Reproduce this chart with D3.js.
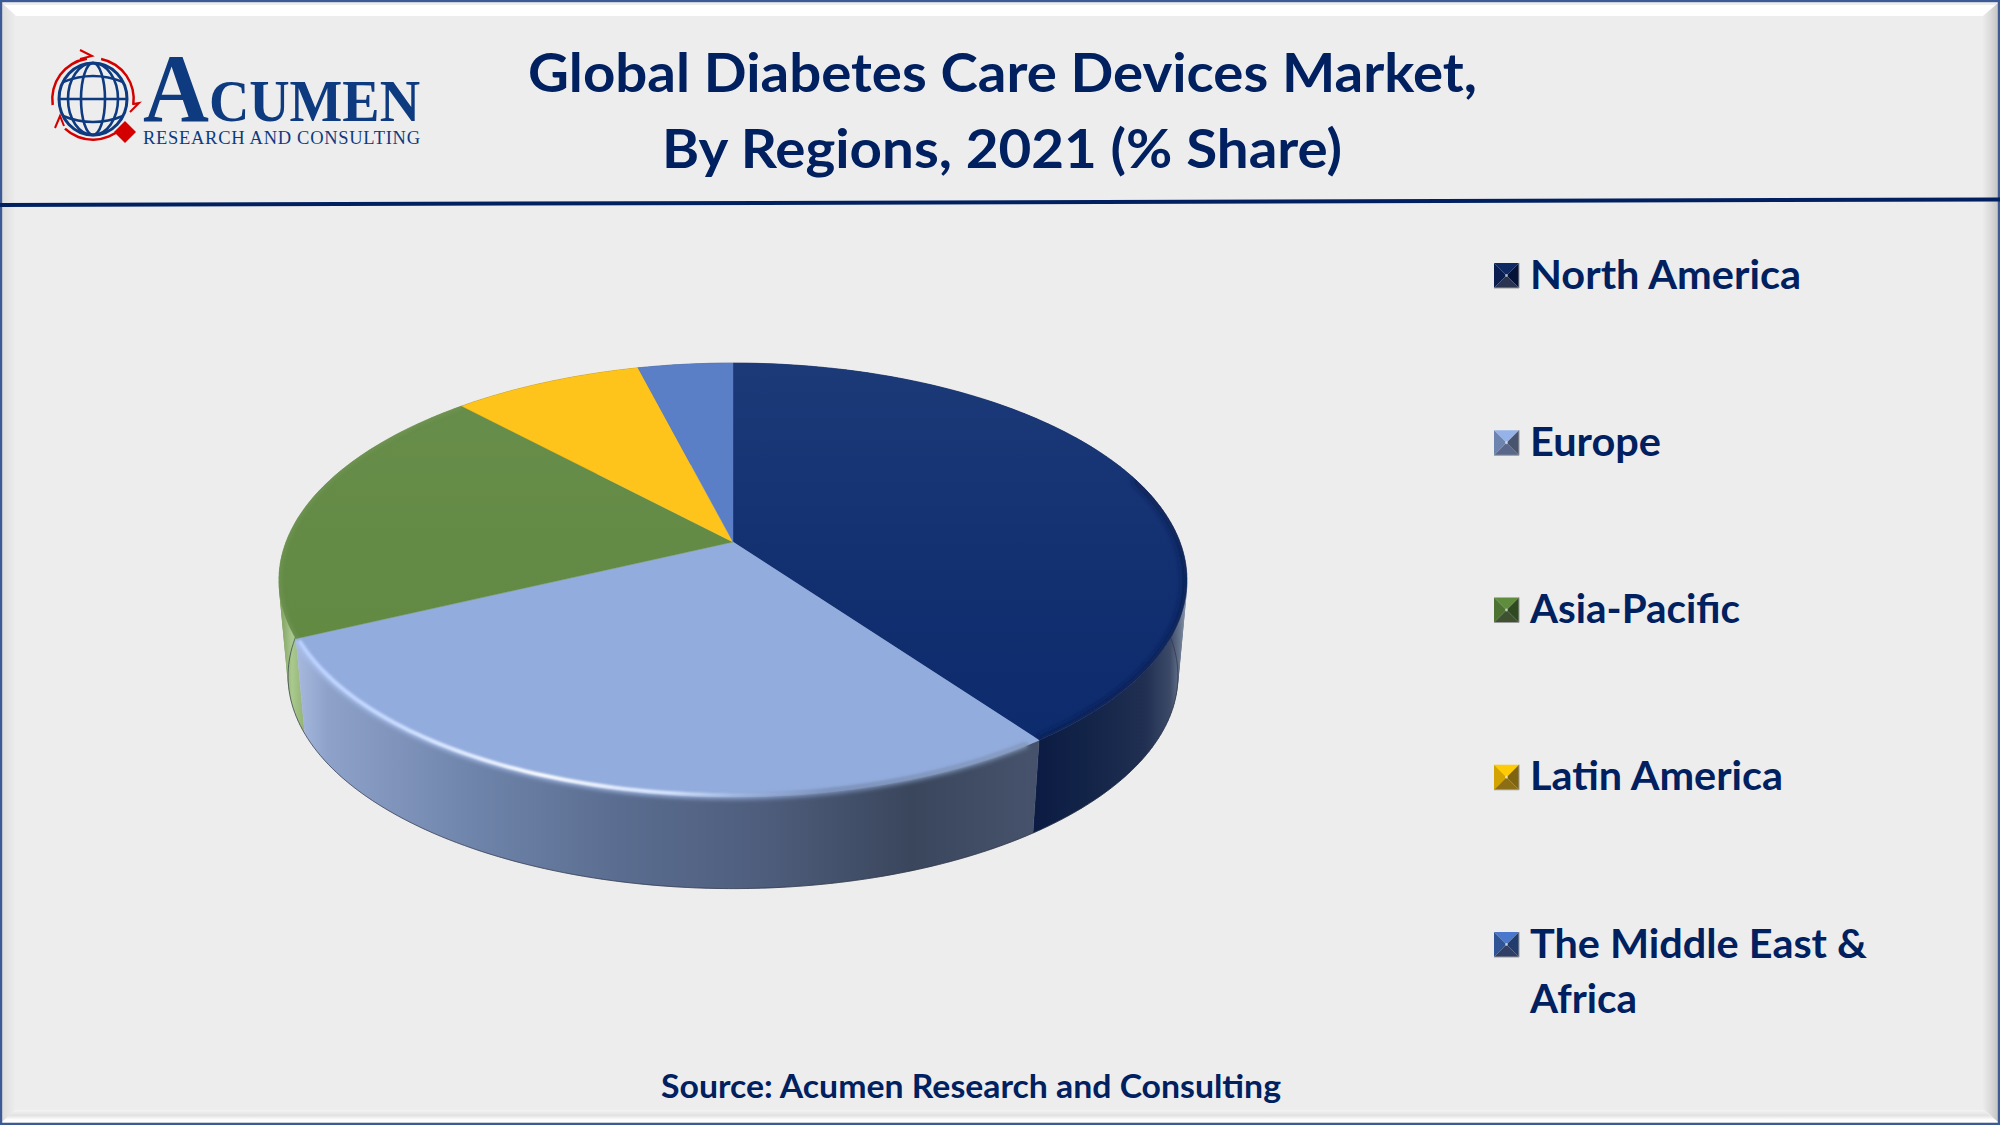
<!DOCTYPE html>
<html><head><meta charset="utf-8">
<script src="https://cdn.jsdelivr.net/npm/d3@7"></script>
<style>html,body{margin:0;padding:0;background:#ededed}svg{display:block}</style>
</head><body><svg id="c" width="2000" height="1125"></svg>
<script>
const categories = ["North America","Europe","Asia-Pacific","Latin America","The Middle East & Africa"];
const shares = [40,28,20,8,4];
const titleLines = ["Global Diabetes Care Devices Market,","By Regions, 2021 (% Share)"];
const sourceNote = "Source: Acumen Research and Consulting";
const topColors = ["#122f70","#92acdd","#638b45","#ffc41c","#5a7fc6"];
const legendLines = [["North America"],["Europe"],["Asia-Pacific"],["Latin America"],["The Middle East &","Africa"]];
const swatchFacets = [
 ["#0f2a63","#0a1f4f","#051338","#2a3350"],
 ["#95b3e8","#6e84b0","#48546e","#59688a"],
 ["#5f8c3d","#4d7332","#2f4a20","#3e5230"],
 ["#ffcb05","#d3a400","#7f6410","#8c6f14"],
 ["#4a78cc","#2f5596","#233c6e","#303f66"]];

const NAVY="#002060";
const svg=d3.select("#c"), defs=svg.append("defs");
const TEXT="Lato, 'Open Sans', sans-serif";
svg.append("rect").attr("width",2000).attr("height",1125).attr("fill","#ededed");

/* frame bevel */
const line=d3.line();
const frame=svg.append("g");
function poly(p,f){frame.append("path").attr("d",line(p)+"Z").attr("fill",f);}
function lg(id,x1,y1,x2,y2,stops){
  const g=defs.append("linearGradient").attr("id",id).attr("gradientUnits","userSpaceOnUse")
    .attr("x1",x1).attr("y1",y1).attr("x2",x2).attr("y2",y2);
  stops.forEach(s=>g.append("stop").attr("offset",s[0]).attr("stop-color",s[1]).attr("stop-opacity",s[2]==null?1:s[2]));
  return `url(#${id})`;
}
poly([[2,5],[1998,5],[1983,16],[16,16]],"#ffffff");
poly([[1998,3],[1998,1122],[1983,1108],[1983,16]],lg("fr",1983,0,1998,0,[[0,"#ebebeb"],[.5,"#dadada"],[1,"#c4c4c4"]]));
poly([[2,3],[15,15],[15,1110],[2,1122]],lg("fl",2,0,15,0,[[0,"#dedede"],[1,"#ececec"]]));
poly([[15,1110],[1983,1110],[1998,1122],[2,1122]],lg("fb",0,1110,0,1122,[[0,"#f4f4f4"],[.45,"#e2e2e2"],[.8,"#fdfdfd"],[1,"#ffffff"]]));
frame.append("rect").attr("x",1).attr("y",1).attr("width",1998).attr("height",1123)
  .attr("fill","none").attr("stroke","#3d5a96").attr("stroke-width",2.4);
svg.append("line").attr("x1",0).attr("y1",205).attr("x2",2000).attr("y2",199.5)
  .attr("stroke",NAVY).attr("stroke-width",4);

/* logo */
const logo=svg.append("g"), LB="#0e3a80", LR="#d40000";
const globe=logo.append("g").attr("transform","translate(93,99)").attr("fill","none").attr("stroke",LB).attr("stroke-width",2.6);
globe.append("ellipse").attr("rx",34).attr("ry",36).attr("stroke-width",3);
[12,25].forEach(r=>globe.append("ellipse").attr("rx",r).attr("ry",36));
globe.append("line").attr("x1",-34).attr("x2",34);
globe.append("path").attr("d","M-30,-17Q0,-29 30,-17M-30,17Q0,29 30,17");
const redArc=d3.arc().innerRadius(39.5).outerRadius(42);
[[-1.72,-0.15],[0.2,1.72],[2.35,3.9]].forEach(a=>{
  logo.append("path").attr("transform","translate(93,99)")
    .attr("d",redArc({startAngle:a[0],endAngle:a[1]})).attr("fill",LR);
});
logo.append("path").attr("d","M80,50L92,56L80,59M133,104L139,103L130,112M55,128L60,116L64,126")
  .attr("fill","none").attr("stroke",LR).attr("stroke-width",2);
logo.append("path").attr("d","M125,121L136,132L125,143L114,132Z").attr("fill",LR);
const brand=logo.append("text").attr("x",143).attr("y",121).attr("font-family","'Liberation Serif',serif").attr("font-weight",700)
  .attr("fill",LB).attr("textLength",277).attr("lengthAdjust","spacingAndGlyphs");
brand.append("tspan").attr("font-size",98).text("A");
brand.append("tspan").attr("font-size",60).text("CUMEN");
logo.append("text").attr("x",143).attr("y",144).attr("font-family","'Liberation Serif',serif")
  .attr("font-size",18.5).attr("fill",LB).attr("textLength",277).attr("lengthAdjust","spacing").text("RESEARCH AND CONSULTING");

/* titles */
function label(t,x,y,size,width,anchor){
  return svg.append("text").attr("x",x).attr("y",y).attr("font-family",TEXT).attr("font-weight",700)
    .attr("font-size",size).attr("fill",NAVY).attr("text-anchor",anchor||"start")
    .attr("textLength",width).attr("lengthAdjust","spacingAndGlyphs").text(t);
}
label(titleLines[0],1002.5,92,53,949,"middle");
label(titleLines[1],1002,168,53,680,"middle");
label(sourceNote,971,1098,33,620,"middle");

/* perspective pie */
const CX=733, APEX=542, H_A=115.4, H_C=-0.1751, H_D=447, ELL_Y=580, DEPTH=96;
const topPt=a=>{const u=Math.sin(a),v=-Math.cos(a),w=1+H_C*v;return [CX+H_D*u/w,(H_A*v+APEX)/w];};
const botPt=a=>{const p=topPt(a);return [CX+(p[0]-CX)*.98,ELL_Y+(p[1]-ELL_Y)*.98+DEPTH];};
const pie=d3.pie().sort(null).value(d=>d)(shares);
const samples=(s,e)=>{const n=Math.max(8,Math.ceil((e-s)/0.02));return d3.range(n+1).map(i=>s+(e-s)*i/n);};

const wallStops=[
 [[1030,"#0a1a42"],[1100,"#15264a"],[1145,"#202f52"],[1170,"#3c4a68"],[1180,"#66748c"],[1188,"#95a1b2"]],
 [[300,"#a4b6dc"],[328,"#8ea2c9"],[474,"#6f84aa"],[620,"#5a6d90"],[765,"#4e5d7c"],[911,"#3a465c"],[1030,"#46526b"]],
 [[280,"#7f9f5f"],[292,"#a9c98e"],[310,"#8aa868"]],
 [[0,"#8a6f10"],[2000,"#8a6f10"]],
 [[0,"#2f4a80"],[2000,"#2f4a80"]]];
const walls=svg.append("g");
[4,3,2,0,1].forEach(i=>{
  const d=pie[i], st=wallStops[i], x0=st[0][0], x1=st[st.length-1][0];
  const fill=lg("w"+i,x0,0,x1,0,st.map(s=>[(s[0]-x0)/(x1-x0),s[1]]));
  const aa=samples(d.startAngle,d.endAngle); let path="";
  for(let k=0;k<aa.length-1;k++){
    let q=[topPt(aa[k]),topPt(aa[k+1]),botPt(aa[k+1]),botPt(aa[k])];
    if(d3.polygonArea(q)<0) q=q.reverse();
    path+=line(q)+"Z";
  }
  walls.append("path").attr("d",path).attr("fill",fill).attr("fill-rule","nonzero")
    .attr("stroke",fill).attr("stroke-width",.4);
});
walls.append("path").attr("d",d3.line()(samples(1.35,4.75).map(botPt))).attr("fill","none")
  .attr("stroke","#2a3040").attr("stroke-width",1).attr("opacity",.65);

/* top faces */
const blur=(id,s)=>defs.append("filter").attr("id",id).attr("x","-10%").attr("y","-10%").attr("width","120%").attr("height","120%")
  .append("feGaussianBlur").attr("stdDeviation",s);
blur("b1",1.3);blur("b2",2);blur("b3",3.2);
const faceFill=[
 lg("t0",0,362,0,790,[[0,"#1c3a78"],[.5,"#122f70"],[1,"#0c2b6c"]]),
 topColors[1],
 lg("t2",0,405,0,640,[[0,"#678d4a"],[1,"#628a43"]]),
 topColors[3],topColors[4]];
const tops=svg.append("g");
const slicePath=d=>d3.line()([[CX,APEX],...samples(d.startAngle,d.endAngle).map(topPt)])+"Z";
pie.forEach((d,i)=>{
  tops.append("path").attr("d",slicePath(d)).attr("fill",faceFill[i]).attr("stroke",faceFill[i]).attr("stroke-width",.4);
  defs.append("clipPath").attr("id","cp"+i).append("path").attr("d",slicePath(d));
});
const arcInset=(s,e,px)=>d3.line()(samples(s,e).map(a=>{const p=topPt(a);const dx=CX-p[0],dy=ELL_Y-p[1],l=Math.hypot(dx,dy);return [p[0]+dx/l*px,p[1]+dy/l*px];}));
/* rim shading */
tops.append("g").attr("clip-path","url(#cp0)").append("path").attr("d",arcInset(pie[0].startAngle+1.25,pie[0].endAngle,1))
  .attr("fill","none").attr("stroke","#0a1c4c").attr("stroke-width",5).attr("filter","url(#b3)");
/* soft transition from top face to the Europe wall */
const softEU=lg("se",300,0,1035,0,[[0,"#a9c0ee"],[.5,"#93a9d4"],[.75,"#6f83a8"],[1,"#71859f"]]);
tops.append("path").attr("d",arcInset(pie[1].startAngle+.03,pie[1].endAngle-.01,0))
  .attr("fill","none").attr("stroke",softEU).attr("stroke-width",5).attr("filter","url(#b2)");
const rimEU=lg("re",300,0,1035,0,[[0,"#bcd2ff"],[.12,"#c8dbff"],[.33,"#ffffff"],[.5,"#d8e6ff"],[.6,"#9fb6e0"],[.72,"#7f95bd"],[1,"#8aa0c8"]]);
tops.append("path").attr("d",arcInset(pie[1].startAngle+.03,pie[1].endAngle-.01,2))
  .attr("fill","none").attr("stroke",rimEU).attr("stroke-width",3.6).attr("filter","url(#b1)");
tops.append("g").attr("clip-path","url(#cp2)").append("path").attr("d",arcInset(pie[2].startAngle,pie[2].endAngle,0))
  .attr("fill","none").attr("stroke","#7c9c62").attr("stroke-width",4).attr("opacity",.55).attr("filter","url(#b2)");

/* legend */
const SW=25, legendY=d3.scalePoint().domain(categories).range([263,932]);
const leg=svg.append("g");
const legendWidths=[[271],[131],[210],[253],[337,107]];
categories.forEach((c,i)=>{
  const y=legendY(c), x=1494, f=swatchFacets[i], m=[x+SW/2,y+SW/2];
  const corners=[[x,y],[x+SW,y],[x+SW,y+SW],[x,y+SW]];
  const order=[[0,1,0],[3,0,1],[1,2,2],[2,3,3]];
  order.forEach(o=>leg.append("path").attr("d",line([corners[o[0]],corners[o[1]],m])+"Z").attr("fill",f[o[2]]));
  leg.append("circle").attr("cx",m[0]).attr("cy",m[1]).attr("r",1.4).attr("fill","#fff").attr("opacity",.6);
  leg.append("path").attr("d",line([[x+SW,y],[x+SW,y+SW],[x,y+SW]])).attr("fill","none").attr("stroke","#9a9a9a").attr("stroke-width",1);
  legendLines[i].forEach((t,j)=>label(t,1530,y+25.5+j*55,40,legendWidths[i][j]));
});
</script></body></html>
